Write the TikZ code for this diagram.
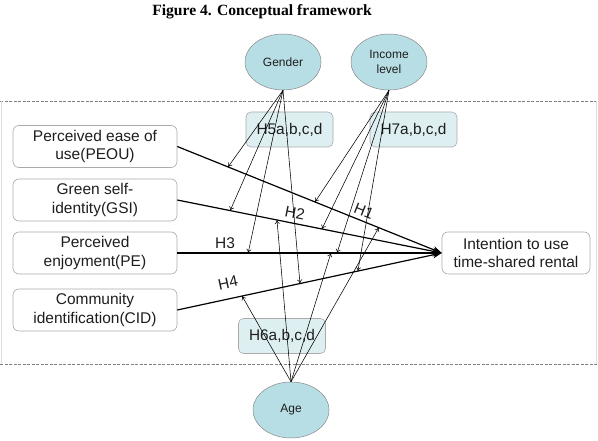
\documentclass[tikz,border=0pt]{standalone}
\usepackage{fontspec}
\setmainfont{Liberation Sans}
\newfontfamily\titlefont{Liberation Serif}
\usetikzlibrary{shapes.geometric,arrows.meta,calc}
\definecolor{ellfill}{RGB}{183,222,228}
\definecolor{hfill}{RGB}{222,239,242}
\definecolor{bordergray}{RGB}{170,170,170}
\definecolor{txt}{RGB}{30,30,30}
\tikzset{
  x=1pt, y=-1pt,
  every node/.style={text=txt},
  varbox/.style={draw=bordergray, fill=white, rounded corners=6pt, minimum width=164pt, minimum height=42pt, align=center, font=\fontsize{15.5}{18.3}\selectfont, inner sep=1pt, line width=0.6pt},
  hbox/.style={draw=bordergray, fill=hfill, rounded corners=5pt, minimum width=87pt, minimum height=35pt, font=\fontsize{15.4}{18}\selectfont, inner sep=1pt, line width=0.6pt},
  moder/.style={draw=bordergray!80!black, fill=ellfill, ellipse, minimum width=76pt, minimum height=56pt, inner sep=0pt, align=center, font=\fontsize{12}{15}\selectfont, line width=0.5pt},
  mainarrow/.style={line width=1.2pt, -{Stealth[length=9pt,width=7pt]}},
  modarrow/.style={line width=0.55pt, -{To[length=4pt,width=5pt]}},
  hlabel/.style={font=\fontsize{15.5}{18}\selectfont, inner sep=0pt},
}
\begin{document}
\begin{tikzpicture}
\useasboundingbox (0,0) rectangle (598,441);
% dashed frame
\draw[gray, line width=0.6pt, dash pattern=on 3pt off 1.5pt] (0,101) -- (598,101);
\draw[gray, line width=0.6pt, dash pattern=on 3pt off 1.5pt] (0,364) -- (598,364);
\draw[gray!25, line width=0.5pt] (596,101) -- (596,364);
\draw[gray!25, line width=0.5pt] (1,101) -- (1,364);
% title
\node[font=\titlefont\bfseries\fontsize{15.6}{18}\selectfont, text=black] (title) at (262,12) {Figure 4. Conceptual framework};
% moderators
\node[moder] (gender) at (283,62) {Gender};
\node[moder] (income) at (389,62) {Income\\level};
\node[moder] (age) at (291,410) {Age};
% hypothesis boxes
\node[hbox] (h5) at (289.5,129.5) {H5a,b,c,d};
\node[hbox] (h7) at (413.5,129.5) {H7a,b,c,d};
\node[hbox] (h6) at (282,336) {H6a,b,c,d};
% variable boxes
\node[varbox] (peou) at (95,146.5) {Perceived ease of\\use(PEOU)};
\node[varbox] (gsi) at (95,200) {Green self-\\identity(GSI)};
\node[varbox] (pe) at (95,253) {Perceived\\enjoyment(PE)};
\node[varbox] (cid) at (95,310) {Community\\identification(CID)};
\node[varbox, minimum width=148pt] (iu) at (516,253) {Intention to use\\time-shared rental};
% coordinates on main paths
\coordinate (s1) at (peou.east);
\coordinate (s2) at (gsi.east);
\coordinate (s3) at (pe.east);
\coordinate (s4) at (cid.east);
\coordinate (tgt) at (iu.west);
% main paths
\draw[mainarrow] (s1) -- (tgt);
\draw[mainarrow] (s2) -- (tgt);
\draw[mainarrow] (s3) -- (tgt);
\draw[mainarrow] (s4) -- (tgt);
% labels
\node[hlabel, rotate=-21.8] (lh1) at (364,211) {H1};
\node[hlabel, rotate=-11.3] (lh2) at (295,213) {H2};
\node[hlabel] (lh3) at (225,243) {H3};
\node[hlabel, rotate=12.1] (lh4) at (228,283) {H4};
% gender moderation
\draw[modarrow] (gender.south) -- ($(s1)!0.192!(tgt)$);
\draw[modarrow] (gender.south) -- ($(s2)!0.200!(tgt)$);
\draw[modarrow] (gender.south) -- ($(s3)!0.268!(tgt)$);
\draw[modarrow] (gender.south) -- ($(s4)!0.464!(tgt)$);
% income moderation
\draw[modarrow] (income.south) -- ($(s1)!0.521!(tgt)$);
\draw[modarrow] (income.south) -- ($(s2)!0.547!(tgt)$);
\draw[modarrow] (income.south) -- ($(s3)!0.604!(tgt)$);
\draw[modarrow] (income.south) -- ($(s4)!0.683!(tgt)$);
% age moderation
\draw[modarrow] (age.north) -- ($(s1)!0.762!(tgt)$);
\draw[modarrow] (age.north) -- ($(s2)!0.377!(tgt)$);
\draw[modarrow] (age.north) -- ($(s3)!0.581!(tgt)$);
\draw[modarrow] (age.north) -- ($(s4)!0.245!(tgt)$);
\end{tikzpicture}
\end{document}
